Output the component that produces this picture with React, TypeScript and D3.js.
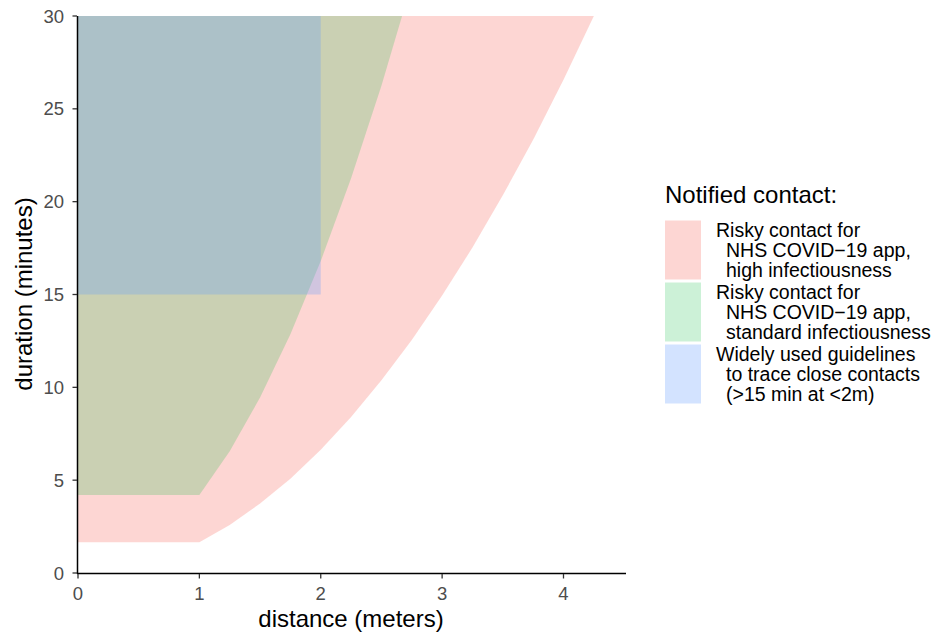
import React from "react";
import * as d3 from "d3";

const lowDistance = [0, 1, 1.25, 1.5, 1.75, 2, 2.25, 2.5, 2.75, 3, 3.25, 3.5, 3.75, 4, 4.25];
const lowDuration = [1.66, 1.66, 2.59, 3.74, 5.08, 6.64, 8.4, 10.38, 12.55, 14.94, 17.53, 20.34, 23.34, 26.56, 30];
const stdDistance = [0, 1, 1.25, 1.5, 1.75, 2, 2.25, 2.5, 2.67];
const stdDuration = [4.2, 4.2, 6.56, 9.45, 12.86, 16.8, 21.26, 26.25, 30];
const guideDistance = [0, 2];
const guideDuration = [15, 30];
const xTicks = [0, 1, 2, 3, 4];
const yTicks = [0, 5, 10, 15, 20, 25, 30];

const legendTitle = "Notified contact:";
const legendItems = [
  { color: "#F8766D", opacity: 0.3, lines: ["Risky contact for", "NHS COVID\u221219 app,", "high infectiousness"] },
  { color: "#00BA38", opacity: 0.2, lines: ["Risky contact for", "NHS COVID\u221219 app,", "standard infectiousness"] },
  { color: "#619CFF", opacity: 0.28, lines: ["Widely used guidelines", "to trace close contacts", "(>15 min at <2m)"] },
];

const W = 946;
const H = 639;
const FONT = "'Liberation Sans', Arial, Helvetica, sans-serif";

export default function App() {
  const x = d3.scaleLinear().domain([0, 4.515]).range([78, 626]);
  const y = d3.scaleLinear().domain([0, 30]).range([573, 16]);
  const yMax = 30;

  const areaAbove = (ds: number[], vs: number[]) => {
    const pts = ds.map((d, i) => [d, vs[i]] as [number, number]);
    const gen = d3
      .area<[number, number]>()
      .x((p) => x(p[0]))
      .y0((p) => y(p[1]))
      .y1(() => y(yMax));
    return gen(pts) || "";
  };

  return (
    <svg width={W} height={H} style={{ position: "absolute", left: 0, top: 0 }} fontFamily={FONT}>
      <rect width={W} height={H} fill="#fff" />
      <path d={areaAbove(lowDistance, lowDuration)} fill={legendItems[0].color} fillOpacity={legendItems[0].opacity} />
      <path d={areaAbove(stdDistance, stdDuration)} fill={legendItems[1].color} fillOpacity={legendItems[1].opacity} />
      <rect
        x={x(guideDistance[0])}
        y={y(guideDuration[1])}
        width={x(guideDistance[1]) - x(guideDistance[0])}
        height={y(guideDuration[0]) - y(guideDuration[1])}
        fill={legendItems[2].color}
        fillOpacity={legendItems[2].opacity}
      />

      {/* axes */}
      <line x1={77.5} x2={77.5} y1={16} y2={574} stroke="#000" strokeWidth={1.5} />
      <line x1={77} x2={626} y1={573.5} y2={573.5} stroke="#000" strokeWidth={1.5} />
      {yTicks.map((t) => (
        <g key={"y" + t}>
          <line x1={72.5} x2={77} y1={y(t)} y2={y(t)} stroke="#333" strokeWidth={1.3} />
          <text x={64} y={y(t)} dy="0.36em" textAnchor="end" fontSize={18.5} fill="#4D4D4D">
            {t}
          </text>
        </g>
      ))}
      {xTicks.map((t) => (
        <g key={"x" + t}>
          <line x1={x(t)} x2={x(t)} y1={574} y2={578.5} stroke="#333" strokeWidth={1.3} />
          <text x={x(t)} y={600} textAnchor="middle" fontSize={18.5} fill="#4D4D4D">
            {t}
          </text>
        </g>
      ))}
      <text x={351} y={627} textAnchor="middle" fontSize={24} fill="#000">
        distance (meters)
      </text>
      <text transform={`translate(32,294) rotate(-90)`} textAnchor="middle" fontSize={24} fill="#000">
        duration (minutes)
      </text>

      {/* legend */}
      <text x={665} y={203} fontSize={24} fill="#000">
        {legendTitle}
      </text>
      {legendItems.map((it, i) => {
        const top = 220.5 + i * 62;
        return (
          <g key={"l" + i}>
            <rect x={665} y={top} width={36} height={59} fill={it.color} fillOpacity={it.opacity} />
            {it.lines.map((ln, j) => (
              <text key={j} x={j === 0 ? 716 : 726} y={top + 16.5 + j * 20} fontSize={19.5} fill="#000">
                {ln}
              </text>
            ))}
          </g>
        );
      })}
    </svg>
  );
}
